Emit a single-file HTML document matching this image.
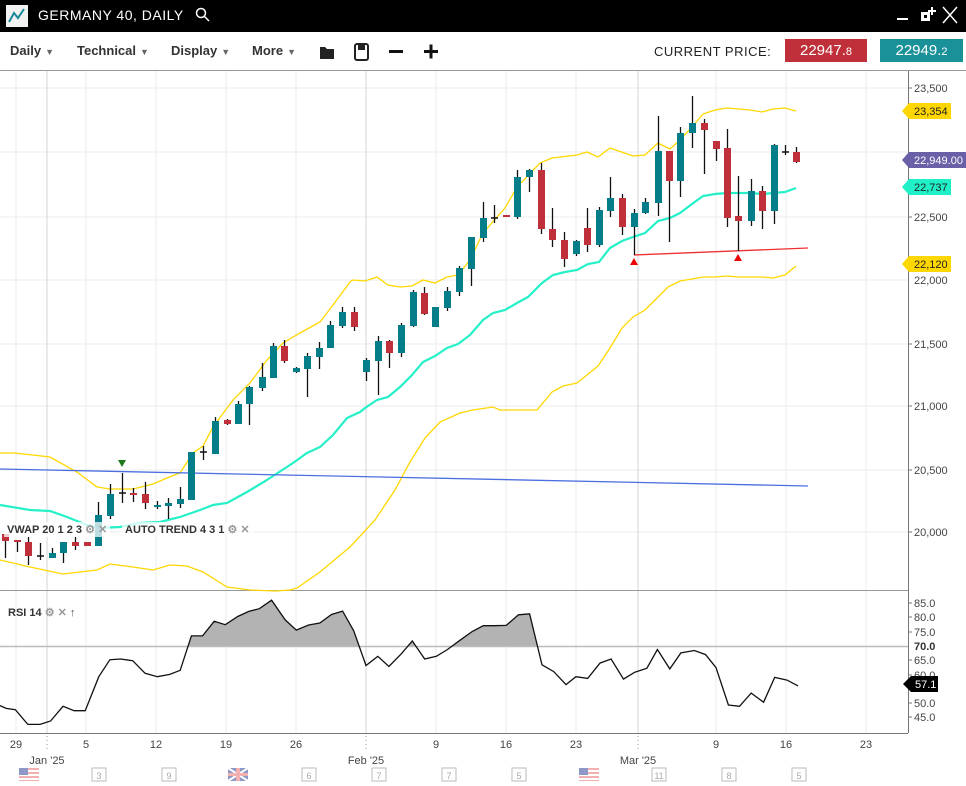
<!DOCTYPE html>
<html><head><meta charset="utf-8">
<style>
body{margin:0;width:966px;height:786px;overflow:hidden;background:#fff;font-family:"Liberation Sans",sans-serif;position:relative}
.top{position:absolute;left:0;top:0;width:966px;height:32px;background:#000}
.menu{position:absolute;top:43px;font-size:13px;font-weight:bold;color:#333}
.tri{font-size:9px;color:#666;margin-left:4px}
.pbox{position:absolute;top:39px;height:23px;color:#fff;font-size:15px;line-height:23px;text-align:center}
</style></head><body>
<div class="top">
 <svg style="position:absolute;left:6px;top:5px" width="22" height="22"><rect width="22" height="22" fill="#f2f2f2"/><polyline points="3,17 8,8 12,13 18,4" fill="none" stroke="#1a8a9a" stroke-width="2"/></svg>
 <div style="position:absolute;left:38px;top:7px;color:#fff;font-size:14px;letter-spacing:.5px">GERMANY 40, DAILY</div>
 <svg style="position:absolute;left:195px;top:7px" width="16" height="16"><circle cx="6" cy="6" r="4.5" fill="none" stroke="#fff" stroke-width="1.5"/><line x1="9.5" y1="9.5" x2="14" y2="14" stroke="#fff" stroke-width="1.5"/></svg>
 <div style="position:absolute;left:897px;top:18px;width:11px;height:2px;background:#fff"></div>
 <svg style="position:absolute;left:919px;top:6px" width="18" height="18"><rect x="2" y="6" width="9" height="9" fill="#fff"/><rect x="5" y="9" width="3" height="3" fill="#000"/><line x1="13" y1="1" x2="13" y2="9" stroke="#fff" stroke-width="2"/><line x1="9" y1="5" x2="17" y2="5" stroke="#fff" stroke-width="2"/></svg>
 <svg style="position:absolute;left:942px;top:6px" width="16" height="18"><line x1="1" y1="1" x2="15" y2="17" stroke="#fff" stroke-width="1.5"/><line x1="15" y1="1" x2="1" y2="17" stroke="#fff" stroke-width="1.5"/></svg>
</div>
<div class="menu" style="left:10px">Daily<span class="tri">▼</span></div>
<div class="menu" style="left:77px">Technical<span class="tri">▼</span></div>
<div class="menu" style="left:171px">Display<span class="tri">▼</span></div>
<div class="menu" style="left:252px">More<span class="tri">▼</span></div>
<svg style="position:absolute;left:318px;top:42px" width="130" height="20">
 <path d="M2,5 h5 l2,2 h7 v10 h-14z" fill="#222"/>
 <rect x="37" y="2" width="13" height="16" rx="2" fill="none" stroke="#222" stroke-width="2"/><rect x="40" y="3" width="7" height="5" fill="#222"/>
 <rect x="71" y="8" width="14" height="3" fill="#111"/>
 <rect x="106" y="8" width="14" height="3" fill="#111"/><rect x="111.5" y="2.5" width="3" height="14" fill="#111"/>
</svg>
<div style="position:absolute;left:654px;top:44px;font-size:13px;color:#222;letter-spacing:.5px">CURRENT PRICE:</div>
<div class="pbox" style="left:785px;width:82px;background:#c0303a">22947.<span style="font-size:11px">8</span></div>
<div class="pbox" style="left:880px;width:83px;background:#1a9098">22949.<span style="font-size:11px">2</span></div>
<svg id="c" style="position:absolute;left:0;top:0" width="966" height="786"></svg>
<div style="position:absolute;left:4px;top:522px;font-size:11px;font-weight:bold;color:#333;background:rgba(255,255,255,.75);padding:1px 3px">VWAP 20 1 2 3 <span style="color:#999">⚙ ✕</span></div>
<div style="position:absolute;left:122px;top:522px;font-size:11px;font-weight:bold;color:#333;background:rgba(255,255,255,.75);padding:1px 3px">AUTO TREND 4 3 1 <span style="color:#999">⚙ ✕</span></div>
<div style="position:absolute;left:8px;top:606px;font-size:11px;font-weight:bold;color:#333">RSI 14 <span style="color:#999">⚙ ✕</span> <span style="font-weight:normal;color:#555">↑</span></div>
<script>
var s='';function A(x){s+=x}
var NS='#888';
// grid
[88,152,217,280,344,406,470,532].forEach(function(y){A('<line x1="0" x2="908" y1="'+y+'" y2="'+y+'" stroke="#ebebeb"/>')});
[16,86,156,226,296,436,506,576,716,786,866].forEach(function(x){A('<line x1="'+x+'" x2="'+x+'" y1="71" y2="733" stroke="#ebebeb"/>')});
[47,366,638].forEach(function(x){A('<line x1="'+x+'" x2="'+x+'" y1="71" y2="733" stroke="#d4d4d4"/>')});
A('<line x1="0" x2="966" y1="70.5" y2="70.5" stroke="#999"/>');
A('<line x1="0" x2="908" y1="590.5" y2="590.5" stroke="#999"/>');
A('<line x1="908.5" x2="908.5" y1="71" y2="733" stroke="#777"/>');
A('<line x1="0" x2="908" y1="733.5" y2="733.5" stroke="#777"/>');
function pl(pts,col,w){A('<polyline fill="none" stroke="'+col+'" stroke-width="'+w+'" points="'+pts+'"/>')}
// bands
pl('0,453 15,453 50,457 77,472 97,487 110,489 133,489 153,484 167,478 180,473 193,453 203,446 213,427 233,400 250,383 267,360 283,343 300,333 320,322 333,305 350,282 353,280 365,281 377,277 388,285 400,287 412,286 423,280 435,283 447,277 458,275 470,260 483,233 505,208 517,187 540,163 552,158 577,155 587,152 598,157 610,148 633,156 645,155 658,143 670,149 680,140 692,127 703,114 715,110 727,108 750,110 762,112 773,109 785,108 796,111','#ffd700',1.3);
pl('0,560 30,567 63,574 97,570 110,564 133,567 153,570 170,565 187,566 203,572 227,587 250,590 275,591 290,590 297,588 320,572 350,547 375,520 395,490 410,462 425,438 440,422 460,413 473,410 493,407 500,410 537,410 552,392 563,386 577,383 598,366 610,348 622,328 633,317 645,310 657,298 668,287 680,281 692,279 703,277 715,277 727,276 738,277 763,277 773,278 785,275 796,266','#ffd700',1.3);
pl('0,505 30,510 50,511 67,517 87,525 100,528 120,527 140,523 160,522 180,517 200,510 213,505 227,503 247,492 267,480 293,463 307,453 320,447 333,435 347,418 360,412 365,408 377,400 388,397 400,387 412,375 423,362 435,356 447,348 458,344 470,335 483,320 493,313 505,310 517,303 528,297 542,283 553,275 565,272 577,270 588,264 599,262 610,248 622,241 633,237 645,233 658,221 670,218 680,213 692,204 703,196 715,194 727,193 738,193 750,193 763,194 773,193 785,192 796,188','#25f0c8',2.2);
A('<line x1="0" y1="469" x2="808" y2="486" stroke="#4a6ee0" stroke-width="1.3"/>');
A('<line x1="634" y1="255" x2="808" y2="248" stroke="#f03030" stroke-width="1.3"/>');
A('<polygon points="630,265 638,265 634,258" fill="#e00"/><polygon points="734,261 742,261 738,254" fill="#e00"/><polygon points="118,460 126,460 122,467" fill="#1a7a1a"/>');
// candles x, type(1 teal,0 red,2 doji), bodyTop, bodyBot, high, low
var C=[[5,0,534,541,534,558],[17,0,540,542,540,552],[28,0,542,556,537,565],[40,2,556,556,543,560],[52,1,553,558,548,558],[63,1,542,553,542,563],[75,0,542,546,537,550],[87,0,542,546,542,546],[98,1,515,546,502,546],[110,1,494,516,484,519],[122,2,493,493,473,503],[133,0,493,495,488,502],[145,0,494,503,482,509],[157,1,505,507,501,509],[168,1,503,506,498,519],[180,1,499,504,487,508],[191,1,452,500,452,500],[203,2,452,452,446,460],[215,1,421,454,417,454],[227,0,420,424,419,425],[238,1,404,424,401,424],[249,1,387,404,386,425],[262,1,377,388,363,391],[273,1,346,378,343,378],[284,0,346,361,340,363],[296,1,368,372,367,373],[307,1,356,369,353,397],[319,1,348,357,342,369],[330,1,325,348,321,348],[342,1,312,326,307,328],[354,0,312,327,307,331],[366,1,360,372,358,381],[378,1,341,361,336,395],[389,0,341,353,340,368],[401,1,325,353,323,357],[413,1,292,326,290,327],[424,0,293,314,287,315],[435,1,307,327,307,327],[447,1,291,308,287,311],[459,1,268,292,266,296],[471,1,237,269,237,286],[483,1,218,238,202,242],[494,2,218,218,205,223],[506,0,215,217,215,217],[517,1,177,217,170,219],[529,1,170,177,169,192],[541,0,170,229,163,234],[552,0,229,240,208,247],[564,0,240,259,232,267],[576,1,241,254,240,256],[587,0,228,245,208,252],[599,1,210,245,207,247],[610,1,198,211,177,217],[622,0,198,227,194,235],[634,1,213,227,209,255],[645,1,202,213,198,214],[658,1,151,203,116,216],[669,0,151,181,151,242],[680,1,133,181,127,197],[692,1,123,133,96,148],[704,0,123,130,119,174],[716,0,141,149,141,161],[727,0,148,218,129,227],[738,0,216,221,176,251],[751,1,191,221,179,226],[762,0,191,211,186,229],[774,1,145,211,144,224],[785,2,152,152,145,155],[796,0,152,162,147,163]];
C.forEach(function(c){var x=c[0];
 A('<line x1="'+(x+.5)+'" x2="'+(x+.5)+'" y1="'+c[4]+'" y2="'+c[5]+'" stroke="#111" stroke-width="1.3"/>');
 if(c[1]==2)A('<line x1="'+(x-3)+'" x2="'+(x+4)+'" y1="'+c[2]+'" y2="'+c[2]+'" stroke="#111" stroke-width="1.5"/>');
 else A('<rect x="'+(x-3)+'" y="'+c[2]+'" width="7" height="'+Math.max(2,c[3]-c[2])+'" fill="'+(c[1]?'#057e8a':'#c0303a')+'"/>');
});
// price labels
function T(x,y,t,o){A('<text x="'+x+'" y="'+y+'" font-size="11" fill="'+(o||'#444')+'" font-family="Liberation Sans,sans-serif">'+t+'</text>')}
[[88,'23,500'],[217,'22,500'],[344,'21,500'],[406,'21,000'],[470,'20,500'],[532,'20,000']].forEach(function(p){A('<line x1="908" x2="912" y1="'+p[0]+'" y2="'+p[0]+'" stroke="#777"/>');T(914,p[0]+4,p[1])});
T(914,284,'22,000');
function tag(y,col,t,tc){A('<polygon points="902,'+y+' 909,'+(y-8)+' 951,'+(y-8)+' 951,'+(y+8)+' 909,'+(y+8)+'" fill="'+col+'"/>');T(914,y+4,t,tc)}
tag(111,'#ffd700','23,354','#222');
tag(264,'#ffd700','22,120','#222');
tag(187,'#20f0c8','22,737','#222');
A('<polygon points="902,160 909,152 966,152 966,168 909,168" fill="#6a60a8"/>');T(914,164,'22,949.00','#fff');
// RSI
var R=[[0,340],[10,348],[25,352],[45,395],[65,395],[82,385],[102,342],[120,355],[138,355],[160,255],[178,205],[195,203],[215,208],[235,245],[255,255],[275,248],[292,236],[310,135],[328,135],[347,92],[365,102],[385,78],[403,63],[420,55],[440,30],[462,88],[480,118],[500,103],[518,97],[537,72],[555,62],[573,120],[593,222],[612,195],[630,225],[650,188],[668,150],[688,203],[707,195],[725,175],[745,148],[765,122],[783,105],[800,105],[820,104],[840,73],[858,70],[878,220],[897,240],[917,278],[933,255],[952,260],[972,215],[990,203],[1010,262],[1028,242],[1048,230],[1065,175],[1085,232],[1103,185],[1125,178],[1143,190],[1160,228],[1180,338],[1198,342],[1217,303],[1237,330],[1255,257],[1275,265],[1293,282]];
var pts=R.map(function(p){return (p[0]/1.62).toFixed(1)+','+(590+p[1]/2.94).toFixed(1)}).join(' ');
A('<clipPath id="cl"><rect x="0" y="591" width="908" height="55.5"/></clipPath>');
A('<polygon clip-path="url(#cl)" points="0,646 '+pts+' 798,646" fill="#b3b3b3"/>');
A('<line x1="0" x2="908" y1="646.5" y2="646.5" stroke="#bbb" stroke-width="1.5"/>');
pl(pts,'#111',1.3);
[[603,'85.0'],[617,'80.0'],[632,'75.0'],[660,'65.0'],[675,'60.0'],[703,'50.0'],[717,'45.0']].forEach(function(p){A('<line x1="908" x2="912" y1="'+p[0]+'" y2="'+p[0]+'" stroke="#777"/>');T(914,p[0]+4,p[1])});
A('<text x="914" y="650" font-size="11" font-weight="bold" fill="#333" font-family="Liberation Sans,sans-serif">70.0</text>');
A('<polygon points="903,684 911,676 938,676 938,692 911,692" fill="#000"/>');T(915,688,'57.1','#fff');
// x axis
[[16,'29'],[86,'5'],[156,'12'],[226,'19'],[296,'26'],[436,'9'],[506,'16'],[576,'23'],[716,'9'],[786,'16'],[866,'23']].forEach(function(p){A('<text x="'+p[0]+'" y="748" font-size="11" fill="#444" text-anchor="middle" font-family="Liberation Sans,sans-serif">'+p[1]+'</text>')});
[[47,'Jan \'25'],[366,'Feb \'25'],[638,'Mar \'25']].forEach(function(p){A('<text x="'+p[0]+'" y="764" font-size="11" fill="#444" text-anchor="middle" font-family="Liberation Sans,sans-serif">'+p[1]+'</text>')});
[47,366,638].forEach(function(x){A('<line x1="'+x+'" x2="'+x+'" y1="736" y2="752" stroke="#999" stroke-dasharray="1,3"/>')});
function flagUS(x){A('<rect x="'+x+'" y="768" width="20" height="13" fill="#f3b0b0"/><rect x="'+x+'" y="770" width="20" height="2" fill="#fff"/><rect x="'+x+'" y="774" width="20" height="2" fill="#fff"/><rect x="'+x+'" y="778" width="20" height="2" fill="#fff"/><rect x="'+x+'" y="768" width="9" height="7" fill="#8d97c8"/>')}
flagUS(19);flagUS(579);
A('<rect x="228" y="768" width="20" height="13" fill="#8d97c8"/><line x1="228" y1="768" x2="248" y2="781" stroke="#fff" stroke-width="2"/><line x1="248" y1="768" x2="228" y2="781" stroke="#fff" stroke-width="2"/><rect x="236" y="768" width="4" height="13" fill="#f3b0b0"/><rect x="228" y="773" width="20" height="3" fill="#f3b0b0"/>');
[[99,'3'],[169,'9'],[309,'6'],[379,'7'],[449,'7'],[519,'5'],[659,'11'],[729,'8'],[799,'5']].forEach(function(p){A('<rect x="'+(p[0]-7)+'" y="768" width="14" height="13" fill="none" stroke="#bbb"/><text x="'+p[0]+'" y="779" font-size="9" fill="#aaa" text-anchor="middle" font-family="Liberation Sans,sans-serif">'+p[1]+'</text>')});
document.getElementById('c').innerHTML=s;
</script>
</body></html>
